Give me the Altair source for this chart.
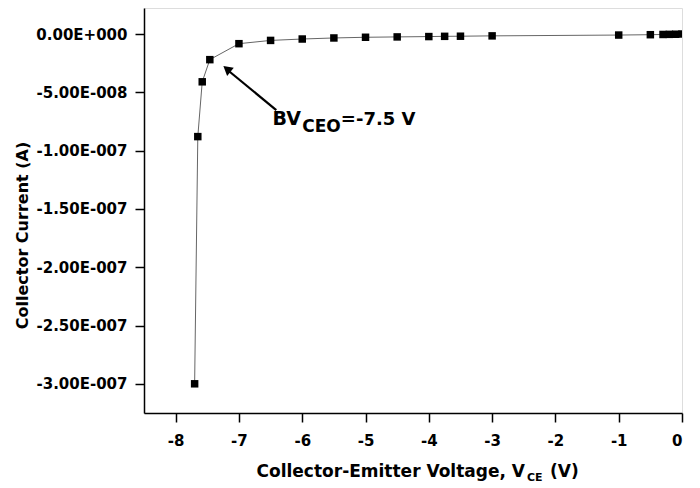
import altair as alt
import pandas as pd
import json

# ---- data ----
VCE = [-7.70, -7.65, -7.58, -7.46, -7.0, -6.5, -6.0, -5.5, -5.0, -4.5, -4.0,
       -3.75, -3.5, -3.0, -1.0, -0.5, -0.3, -0.2, -0.1, 0.0]
IC_NA = [-300.0, -88.0, -41.0, -22.0, -8.3, -5.5, -4.3, -3.4, -2.8, -2.5, -2.2,
         -2.0, -1.9, -1.6, -0.9, -0.6, -0.4, -0.3, -0.2, 0.0]  # in nA

X_TICKS = [-8, -7, -6, -5, -4, -3, -2, -1, 0]
Y_TICKS = [0.0, -5e-8, -1e-7, -1.5e-7, -2e-7, -2.5e-7, -3e-7]
Y_LABELS = ["0.00E+000", "-5.00E-008", "-1.00E-007", "-1.50E-007",
            "-2.00E-007", "-2.50E-007", "-3.00E-007"]

FONT = "DejaVu Sans"

df = pd.DataFrame({"V": VCE, "I": [v * 1e-9 for v in IC_NA]})

W, H = 538, 405
xs = alt.Scale(domain=[-8.5, 0], nice=False, zero=False)
ys = alt.Scale(domain=[-3.2504e-7, 2.23e-8], nice=False, zero=False)

label_expr = "%s[indexof(%s, datum.value)]" % (json.dumps(Y_LABELS), json.dumps(Y_TICKS))

x_enc = alt.X("V:Q", scale=xs,
              axis=alt.Axis(values=X_TICKS, title=None, grid=False, tickSize=9,
                            labelExpr="toString(datum.value)",
                            labelPadding=11, labelFont=FONT, labelFontSize=15,
                            labelFontWeight="bold", labelColor="black",
                            domainColor="black", tickColor="black",
                            domainWidth=1.5, tickWidth=1.5))
y_enc = alt.Y("I:Q", scale=ys,
              axis=alt.Axis(values=Y_TICKS, labelExpr=label_expr,
                            title="Collector Current (A)", titleFont=FONT,
                            titleFontSize=16, titleFontWeight="bold",
                            titleColor="black", titlePadding=5, titleY=227,
                            grid=False, tickSize=9, labelPadding=8,
                            labelFont=FONT, labelFontSize=15,
                            labelFontWeight="bold", labelColor="black",
                            domainColor="black", tickColor="black",
                            domainWidth=1.5, tickWidth=1.5))

line = alt.Chart(df).mark_line(color="#666666", strokeWidth=1).encode(x=x_enc, y=y_enc)
pts = alt.Chart(df).mark_point(shape="square", filled=True, color="black",
                               size=56, opacity=1, clip=True).encode(x="V:Q", y="I:Q")

# annotation arrow
arrow_df = pd.DataFrame({"x": [-6.41], "y": [-6.52e-8], "x2": [-7.17], "y2": [-3.13e-8]})
arrow = alt.Chart(arrow_df).mark_rule(color="black", strokeWidth=2.2).encode(
    x="x:Q", y="y:Q", x2="x2:Q", y2="y2:Q")
head_df = pd.DataFrame({"x": [-7.19], "y": [-3.0e-8]})
head = alt.Chart(head_df).mark_point(shape="triangle-up", filled=True, color="black",
                                     size=110, opacity=1, angle=309).encode(x="x:Q", y="y:Q")

ann_df = pd.DataFrame({
    "x": [-6.47, -6.0, -5.39],
    "y": [-7.80e-8, -8.42e-8, -7.80e-8],
    "t": ["BV", "CEO", "=-7.5 V"],
    "s": [19, 17, 18],
})
ann = alt.Chart(ann_df).mark_text(align="left", baseline="alphabetic", font=FONT,
                                  fontWeight="bold", color="black").encode(
    x="x:Q", y="y:Q", text="t:N", size=alt.Size("s:Q", scale=None, legend=None))

# x-axis title with subscript
xt1 = alt.Chart(pd.DataFrame({"t": ["Collector-Emitter Voltage, V"]})).mark_text(
    align="right", baseline="alphabetic", font=FONT, fontSize=17, fontWeight="bold",
    color="black").encode(x=alt.value(381), y=alt.value(469), text="t:N")
xt2 = alt.Chart(pd.DataFrame({"t": ["CE"]})).mark_text(
    align="left", baseline="alphabetic", font=FONT, fontSize=11, fontWeight="bold",
    color="black").encode(x=alt.value(383), y=alt.value(473), text="t:N")
xt3 = alt.Chart(pd.DataFrame({"t": ["(V)"]})).mark_text(
    align="left", baseline="alphabetic", font=FONT, fontSize=17, fontWeight="bold",
    color="black").encode(x=alt.value(406), y=alt.value(469), text="t:N")

chart = alt.layer(line, pts, arrow, head, ann, xt1, xt2, xt3).properties(
    width=W, height=H,
    autosize=alt.AutoSizeParams(type="none"),
    padding={"left": 136, "top": 0, "right": 10, "bottom": 70},
).configure_view(stroke="black", strokeWidth=1.5).configure(background="white")

chart.save("out.html", embed_options={"renderer": "svg", "actions": False})
